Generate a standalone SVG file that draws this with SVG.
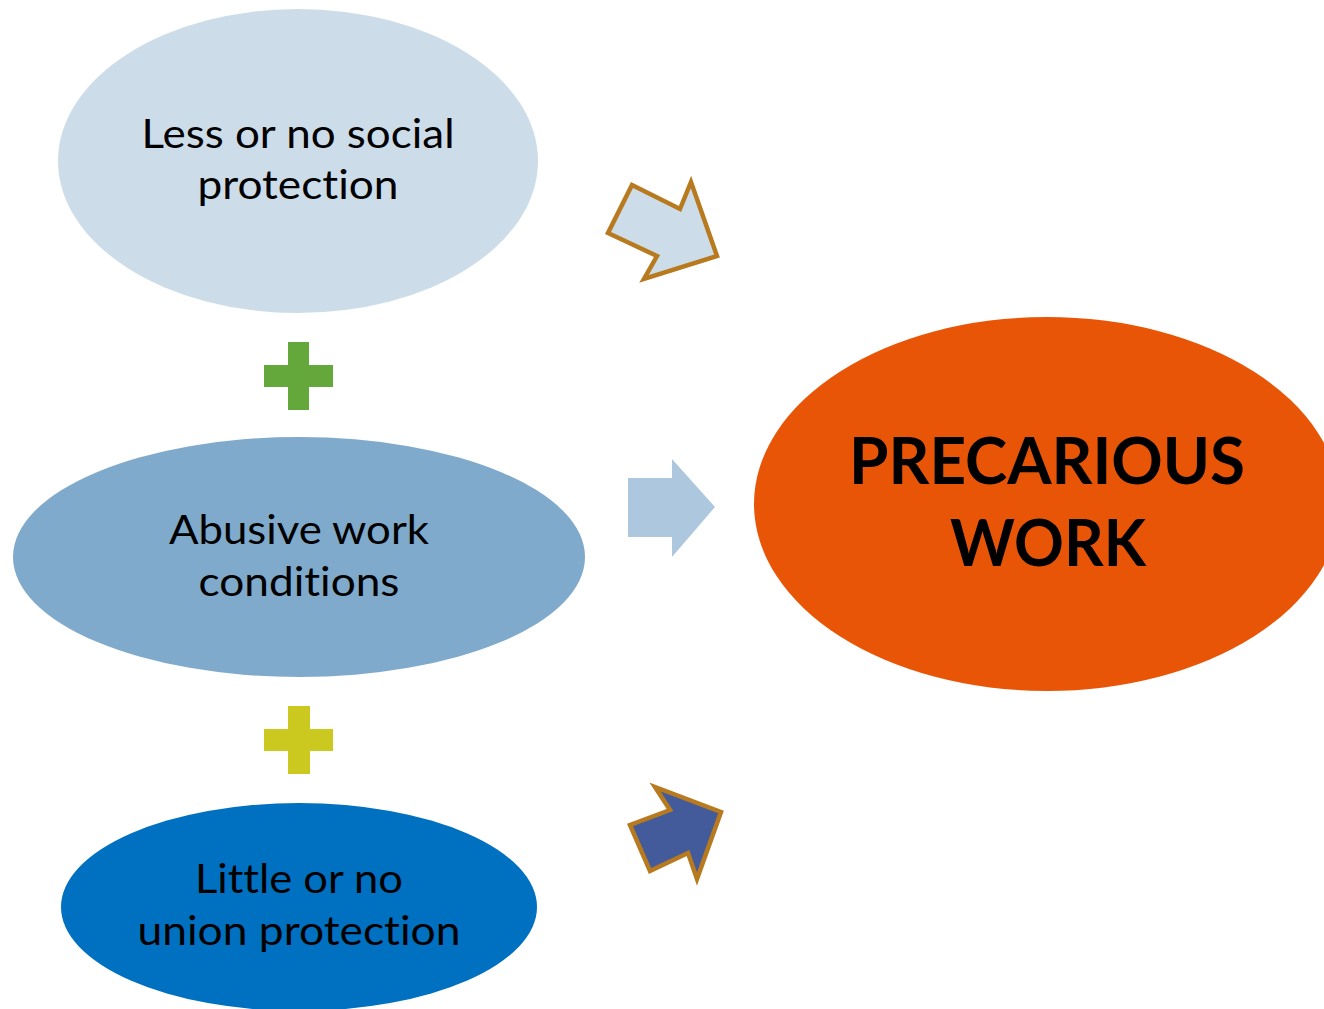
<svg xmlns="http://www.w3.org/2000/svg" width="1324" height="1009" viewBox="0 0 1324 1009">
<style>
.t{font-family:Lato,"Open Sans","Liberation Sans",sans-serif;font-size:41px;fill:#000;text-anchor:middle;font-variant-ligatures:none;font-feature-settings:"liga" 0}
.tb{font-family:Lato,"Open Sans","Liberation Sans",sans-serif;font-size:65px;font-weight:bold;fill:#000;text-anchor:middle;font-variant-ligatures:none}
.ar{stroke:#b87a1f;stroke-width:4.5;stroke-linejoin:miter}
</style>
<rect width="1324" height="1009" fill="#ffffff"/>
<g id="node-social">
<ellipse cx="298" cy="161" rx="240" ry="152" fill="#ccdde9"/>
<text class="t" x="298" y="148" textLength="313" lengthAdjust="spacingAndGlyphs">Less or no social</text>
<text class="t" x="298" y="199" textLength="201" lengthAdjust="spacingAndGlyphs">protection</text>
</g>
<g id="node-abusive">
<ellipse cx="299" cy="557" rx="286" ry="120" fill="#7faacb"/>
<text class="t" x="299" y="544" textLength="260" lengthAdjust="spacingAndGlyphs">Abusive work</text>
<text class="t" x="299" y="596" textLength="201" lengthAdjust="spacingAndGlyphs">conditions</text>
</g>
<g id="node-union">
<ellipse cx="299" cy="907" rx="238" ry="104" fill="#0070c0"/>
<text class="t" x="299" y="893" textLength="208" lengthAdjust="spacingAndGlyphs">Little or no</text>
<text class="t" x="299" y="945" textLength="323" lengthAdjust="spacingAndGlyphs">union protection</text>
</g>
<g id="node-precarious">
<ellipse cx="1047" cy="504" rx="293" ry="187" fill="#e95506"/>
<text class="tb" x="1047" y="484" textLength="396" lengthAdjust="spacingAndGlyphs">PRECARIOUS</text>
<text class="tb" x="1048" y="566" textLength="196" lengthAdjust="spacingAndGlyphs">WORK</text>
</g>
<g id="plus-1">
<path d="M288 342H309V365H333V387H309V410H288V387H264V365H288Z" fill="#64a83c"/>
</g>
<g id="plus-2">
<path d="M288 706H310V729H333V751H310V774H288V751H264V729H288Z" fill="#cbc820"/>
</g>
<g id="connectors">
<polygon class="ar" points="632,185 680,209 691,182 717,256 644,279 657,256 608,233" fill="#ccdde9"/>
<polygon points="628,478 672,478 672,459 715,507 672,557 672,537 628,537" fill="#adc8de"/>
<polygon class="ar" points="655,787 670,810 630,825 650,871 688,853 697,879 721,812" fill="#445b9b"/>
</g>
</svg>
